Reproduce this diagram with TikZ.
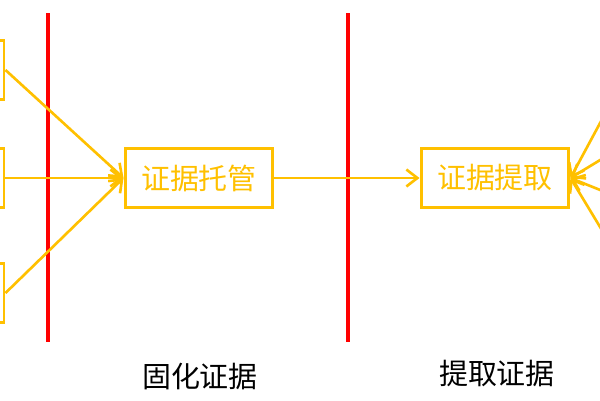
\documentclass[tikz,border=0pt]{standalone}
\usepackage{fontspec}
\setmainfont{Noto Sans CJK SC}
\usetikzlibrary{arrows.meta}
\definecolor{gold}{RGB}{255,192,0}
\begin{document}
\begin{tikzpicture}[x=.02cm, y=-.02cm, >={Straight Barb[length=.22cm,width=.34cm]},
    box/.style={draw=gold, line width=1.7pt, minimum width=2.96cm, minimum height=1.18cm,
        text=gold, inner sep=0pt, font=\fontsize{16.5}{16.5}\selectfont},
    link/.style={draw=gold, line width=1.5pt},
    wall/.style={red, line width=2.5pt}]
\useasboundingbox (0,0) rectangle (600,400);
\clip (0,0) rectangle (600,400);

\draw[wall](48,13)--(48,342);
\draw[wall](348,13)--(348,342);

\node[box] (tuoguan) at (199,178) {证据托管};
\node[box] (tiqu) at (495,178) {证据提取};
\node[box, minimum width=1.2cm] (src1) at (-26,70) {};
\node[box, minimum width=1.2cm] (src2) at (-26,178) {};
\node[box, minimum width=1.2cm] (src3) at (-26,293) {};
\foreach \i in {1,2,3}
{
    \draw[->, link](src\i.east)--(tuoguan.west);
}
\draw[->, link](tuoguan.east)--(tiqu.west);

\coordinate (out1) at (620,86);
\coordinate (out2) at (620,148);
\coordinate (out3) at (620,198);
\coordinate (out4) at (620,260);
\foreach \i in {1,...,4}
{
    \draw[->, link](out\i)--(tiqu.east);
}

\node[font=\fontsize{16.5}{16.5}\selectfont] (guhua) at (200,377) {固化证据};
\node[font=\fontsize{16.5}{16.5}\selectfont] (tiquzj) at (497,374) {提取证据};
\end{tikzpicture}
\end{document}
